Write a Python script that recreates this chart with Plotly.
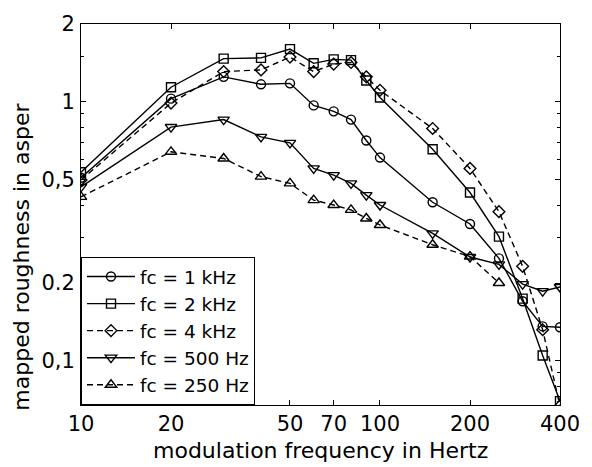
import plotly.graph_objects as go

freqs = [10, 20, 30, 40, 50, 60, 70, 80, 90, 100, 150, 200, 250, 300, 350, 400]
fc_1k = [0.51, 1.03, 1.25, 1.17, 1.18, 0.97, 0.92, 0.855, 0.71, 0.61, 0.41, 0.338, 0.249, 0.17, 0.136, 0.135]
fc_2k = [0.535, 1.14, 1.47, 1.48, 1.60, 1.41, 1.46, 1.45, 1.21, 1.04, 0.657, 0.447, 0.302, 0.174, 0.105, 0.070]
fc_4k = [0.50, 0.99, 1.31, 1.33, 1.49, 1.31, 1.40, 1.42, 1.25, 1.11, 0.79, 0.554, 0.377, 0.232, 0.132, 0.067]
fc_500 = [0.47, 0.80, 0.855, 0.733, 0.695, 0.554, 0.522, 0.485, 0.437, 0.40, 0.311, 0.252, 0.236, 0.198, 0.186, 0.193]
freqs_250 = [10, 20, 30, 40, 50, 60, 70, 80, 90, 100, 150, 200, 250]
fc_250 = [0.43, 0.642, 0.605, 0.515, 0.485, 0.418, 0.40, 0.383, 0.355, 0.335, 0.281, 0.253, 0.20]

x_ticks = [10, 20, 50, 70, 100, 200, 400]
x_ticktext = ["10", "20", "50", "70", "100", "200", "400"]
y_ticks = [0.1, 0.2, 0.5, 1, 2]
y_ticktext = ["0,1", "0.2", "0,5", "1", "2"]
y_minor = [0.07, 0.08, 0.09, 0.3, 0.4, 0.6, 0.7, 0.8, 0.9, 1.5]

series = [
    ("fc = 1 kHz", freqs, fc_1k, "circle-open", "solid", 9),
    ("fc = 2 kHz", freqs, fc_2k, "square-open", "solid", 9),
    ("fc = 4 kHz", freqs, fc_4k, "diamond-open", "6px,4px", 9),
    ("fc = 500 Hz", freqs, fc_500, "triangle-down-open", "solid", 10),
    ("fc = 250 Hz", freqs_250, fc_250, "triangle-up-open", "6px,4px", 10),
]

fig = go.Figure()
for name, xs, ys, sym, dash, ms in series:
    fig.add_trace(go.Scatter(
        x=xs, y=ys, name=name, mode="lines+markers", legendgroup=name,
        line=dict(color="black", width=1.4, dash=dash),
        marker=dict(symbol=sym, size=ms, color="black", line=dict(color="black", width=1.4)),
    ))

font = "DejaVu Sans"
fig.update_layout(
    width=592, height=467,
    margin=dict(l=81, r=23, t=20, b=62),
    paper_bgcolor="white", plot_bgcolor="white",
    font=dict(family=font, color="black", size=21),
    showlegend=True,
    legend=dict(x=0, y=0, xanchor="left", yanchor="bottom",
                bgcolor="white", bordercolor="black", borderwidth=1,
                font=dict(family=font, size=18.5, color="black"),
                itemwidth=48, tracegroupgap=0),
    xaxis=dict(type="log", range=[1, 2.60206], tickvals=x_ticks, ticktext=x_ticktext,
               ticks="inside", ticklen=5, tickcolor="black", showline=True, linecolor="black",
               linewidth=1, mirror="ticks", showgrid=False, zeroline=False,
               tickfont=dict(family=font, size=21, color="black")),
    yaxis=dict(type="log", range=[-1.17, 0.30103], tickvals=y_ticks, ticktext=y_ticktext,
               ticks="inside", ticklen=5, tickcolor="black", showline=True, linecolor="black",
               linewidth=1, mirror="ticks", showgrid=False, zeroline=False,
               ticklabelstandoff=1,
               minor=dict(tickvals=y_minor, ticks="inside", ticklen=3, tickcolor="black"),
               tickfont=dict(family=font, size=21, color="black")),
    annotations=[
        dict(text="modulation frequency in Hertz", xref="paper", yref="paper",
             x=0.5, y=(405 - 451) / 385, xanchor="center", yanchor="middle", showarrow=False,
             font=dict(family=font, size=22, color="black")),
        dict(text="mapped roughness in asper", xref="paper", yref="paper",
             x=(20 - 81) / 488, y=(405 - 255) / 385, xanchor="center", yanchor="middle",
             textangle=-90, showarrow=False,
             font=dict(family=font, size=22, color="black")),
    ],
)

fig.write_html("out.html", config={"displayModeBar": False},
               post_script="document.body.style.margin='0';document.body.style.overflow='hidden';")
